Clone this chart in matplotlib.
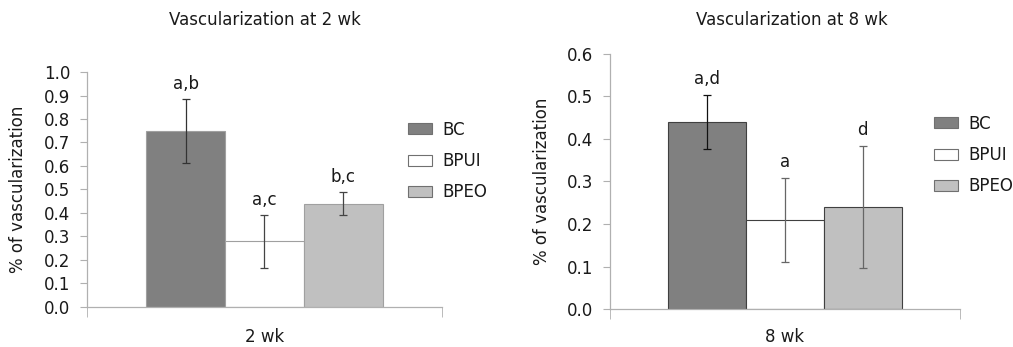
import numpy as np
import matplotlib.pyplot as plt
from matplotlib.patches import Patch

# data
groups = ['BC', 'BPUI', 'BPEO']
colors = ['#808080', '#ffffff', '#c0c0c0']

wk2_mean = [0.75, 0.28, 0.44]
wk2_err = [0.137, 0.113, 0.05]
wk2_labels = ['a,b', 'a,c', 'b,c']

wk8_mean = [0.44, 0.21, 0.24]
wk8_err = [0.064, 0.099, 0.143]
wk8_labels = ['a,d', 'a', 'd']

TXT = '#1a1a1a'
FS = 12
plt.rcParams['font.family'] = 'DejaVu Sans'
plt.rcParams['font.size'] = FS

fig = plt.figure(figsize=(10.13, 3.47), dpi=100)
ax1 = fig.add_axes([0.0859, 0.1153, 0.3504, 0.6772])
ax2 = fig.add_axes([0.6022, 0.1095, 0.3455, 0.7349])


def draw(ax, means, errs, labels, ymax, yticks, xlab, edge, ecols, lab_pad, xpad):
    w = 0.222
    xs = np.array([-w, 0, w])
    ax.bar(xs, means, width=w, color=colors, edgecolor=edge, linewidth=0.8, zorder=2)
    for x, m, e, c in zip(xs, means, errs, ecols):
        ax.errorbar(x, m, yerr=e, fmt='none', ecolor=c, elinewidth=0.9,
                    capsize=3, capthick=0.9, zorder=3)
    for x, m, e, t in zip(xs, means, errs, labels):
        ax.text(x, m + e + lab_pad, t, ha='center', va='bottom', fontsize=FS, color=TXT)
    ax.set_xlim(-0.5, 0.5)
    ax.set_ylim(0, ymax)
    ax.set_yticks(yticks)
    ax.set_yticklabels(['%.1f' % v for v in yticks], fontsize=FS, color=TXT)
    ax.set_xticks([0])
    ax.set_xticklabels([xlab], color=TXT, fontsize=FS)
    ax.tick_params(axis='x', length=0, pad=xpad)
    ax.set_xticks([-0.5, 0.5], minor=True)
    ax.tick_params(axis='x', which='minor', length=7, color='#b0b0b0', direction='out')
    ax.tick_params(axis='y', length=5, color='#b0b0b0', direction='out', pad=7)
    for s in ['top', 'right']:
        ax.spines[s].set_visible(False)
    for s in ['left', 'bottom']:
        ax.spines[s].set_color('#b0b0b0')
        ax.spines[s].set_linewidth(0.9)
    ax.set_ylabel('% of vascularization', color=TXT, fontsize=FS)
    ax.yaxis.set_label_coords(-0.168, 0.5)


draw(ax1, wk2_mean, wk2_err, wk2_labels, 1.0, np.arange(0, 1.01, 0.1),
     '2 wk', '#a0a0a0', ['#333333', '#444444', '#444444'], 0.025, 15)
draw(ax2, wk8_mean, wk8_err, wk8_labels, 0.6, np.arange(0, 0.61, 0.1),
     '8 wk', '#404040', ['#111111', '#666666', '#666666'], 0.016, 14)

fig.text(265 / 1013, 1 - 20 / 347, 'Vascularization at 2 wk', ha='center', va='center',
         fontsize=FS, color=TXT)
fig.text(792 / 1013, 1 - 20 / 347, 'Vascularization at 8 wk', ha='center', va='center',
         fontsize=FS, color=TXT)

for bx, by in [(408 / 1013, 1 - 161 / 347), (934 / 1013, 1 - 155 / 347)]:
    handles = [Patch(facecolor=c, edgecolor='#707070', linewidth=0.8, label=g)
               for g, c in zip(groups, colors)]
    fig.legend(handles=handles, loc='center left', bbox_to_anchor=(bx, by),
               frameon=False, fontsize=FS, handlelength=1.45, handleheight=0.65,
               labelspacing=0.8, handletextpad=0.6, borderpad=0, borderaxespad=0,
               labelcolor=TXT)

fig.savefig('out.png', dpi=100)
